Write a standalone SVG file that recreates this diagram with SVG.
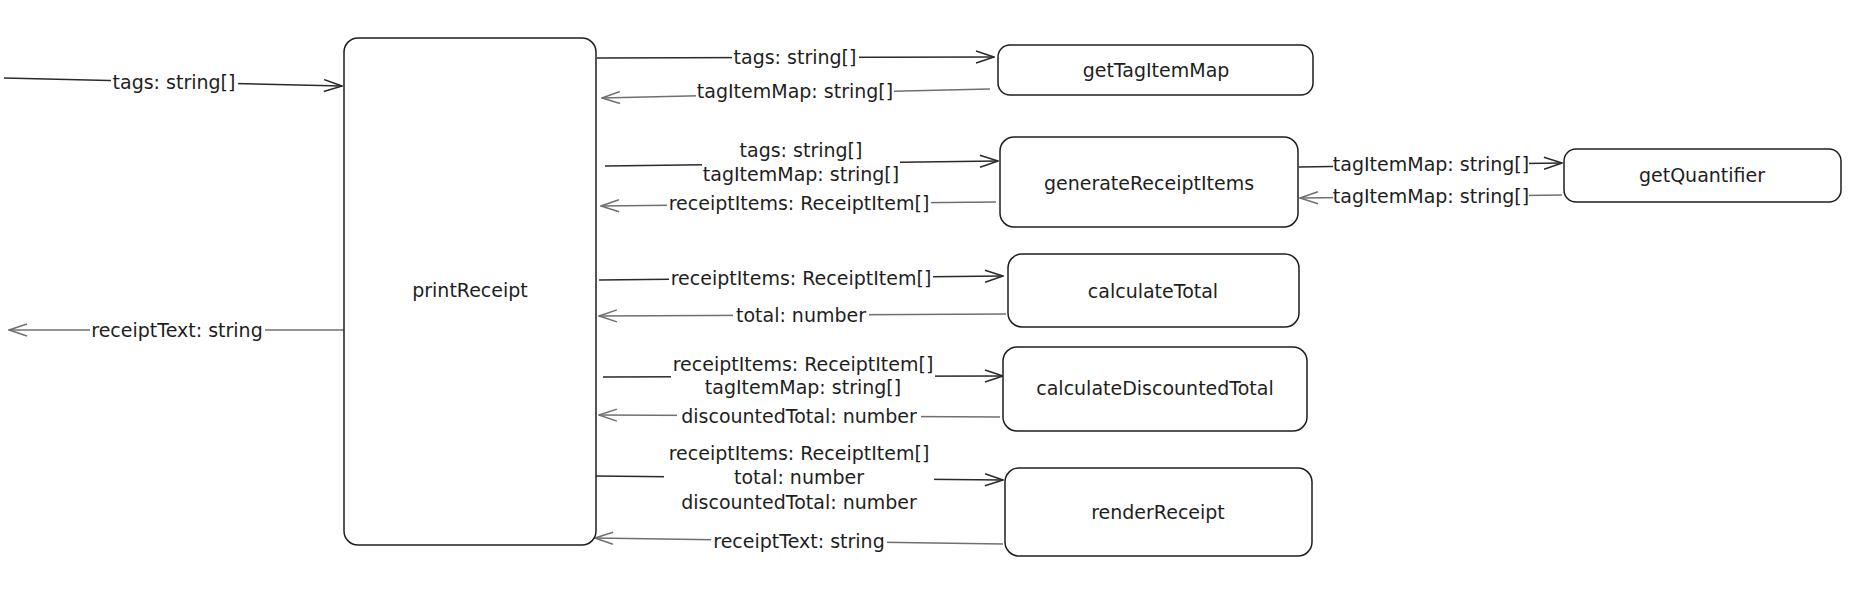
<svg xmlns="http://www.w3.org/2000/svg" width="1855" height="607" viewBox="0 0 1855 607">
<style>
.node{fill:#fff;stroke:#1e1e1e;stroke-width:1.5}
.nl{font-family:"DejaVu Sans",sans-serif;font-size:19px;fill:#1e1e1e;text-anchor:middle;dominant-baseline:central}
.el{font-family:"DejaVu Sans",sans-serif;font-size:19px;fill:#1e1e1e;text-anchor:middle;dominant-baseline:central}
.fw{stroke:#2a2a2a;stroke-width:1.5;fill:none;marker-end:url(#hd)}
.rt{stroke:#707070;stroke-width:1.5;fill:none;marker-end:url(#hg)}
.bg{fill:#fff}
</style>
<defs>
<marker id="hd" viewBox="0 0 20 14" refX="19" refY="7" markerWidth="20" markerHeight="14" markerUnits="userSpaceOnUse" orient="auto">
<path d="M1,1 L19,7 L1,13" fill="none" stroke="#2a2a2a" stroke-width="1.5"/>
</marker>
<marker id="hg" viewBox="0 0 20 14" refX="19" refY="7" markerWidth="20" markerHeight="14" markerUnits="userSpaceOnUse" orient="auto">
<path d="M1,1 L19,7 L1,13" fill="none" stroke="#707070" stroke-width="1.5"/>
</marker>
</defs>
<rect width="1855" height="607" fill="#fff"/>
<g id="connectors">
<path class="fw" d="M4,78 L342,86"/>
<rect class="bg" x="111" y="70" width="127" height="24"/>
<text class="el" x="174" y="82">tags: string[]</text>
<path class="rt" d="M345,330 L9,330"/>
<rect class="bg" x="90" y="318" width="175" height="24"/>
<text class="el" x="177" y="330">receiptText: string</text>

<path class="fw" d="M597,58 L994,57"/>
<rect class="bg" x="732" y="45" width="127" height="24"/>
<text class="el" x="795" y="57">tags: string[]</text>
<path class="rt" d="M990,89 L602,98"/>
<rect class="bg" x="696" y="79" width="198" height="24"/>
<text class="el" x="795" y="91">tagItemMap: string[]</text>

<path class="fw" d="M605,166 L998,161"/>
<rect class="bg" x="702" y="138" width="198" height="48"/>
<text class="el" x="801" y="150">tags: string[]</text>
<text class="el" x="801" y="174">tagItemMap: string[]</text>
<path class="rt" d="M996,202 L601,206"/>
<rect class="bg" x="667" y="191" width="264" height="24"/>
<text class="el" x="799" y="203">receiptItems: ReceiptItem[]</text>

<path class="fw" d="M1299,167 L1562,163"/>
<rect class="bg" x="1333" y="152" width="196" height="24"/>
<text class="el" x="1431" y="164">tagItemMap: string[]</text>
<path class="rt" d="M1562,195 L1300,198"/>
<rect class="bg" x="1333" y="184" width="196" height="24"/>
<text class="el" x="1431" y="196">tagItemMap: string[]</text>

<path class="fw" d="M599,280 L1003,276"/>
<rect class="bg" x="669" y="266" width="264" height="24"/>
<text class="el" x="801" y="278">receiptItems: ReceiptItem[]</text>
<path class="rt" d="M1006,314 L599,316"/>
<rect class="bg" x="733" y="303" width="136" height="24"/>
<text class="el" x="801" y="315">total: number</text>

<path class="fw" d="M603,377 L1003,376"/>
<rect class="bg" x="671" y="352" width="264" height="48"/>
<text class="el" x="803" y="364">receiptItems: ReceiptItem[]</text>
<text class="el" x="803" y="387">tagItemMap: string[]</text>
<path class="rt" d="M1000,417 L599,415"/>
<rect class="bg" x="677" y="404" width="244" height="24"/>
<text class="el" x="799" y="416">discountedTotal: number</text>

<path class="fw" d="M595,476 L1003,480"/>
<rect class="bg" x="664" y="441" width="270" height="73"/>
<text class="el" x="799" y="453">receiptItems: ReceiptItem[]</text>
<text class="el" x="799" y="477">total: number</text>
<text class="el" x="799" y="502">discountedTotal: number</text>
<path class="rt" d="M1003,544 L595,538"/>
<rect class="bg" x="711" y="529" width="176" height="24"/>
<text class="el" x="799" y="541">receiptText: string</text>
</g>
<g id="printReceipt">
<rect class="node" x="344" y="38" width="252" height="507" rx="14"/>
<text class="nl" x="470" y="290">printReceipt</text>
</g>
<g id="getTagItemMap">
<rect class="node" x="998" y="45" width="315" height="50" rx="12"/>
<text class="nl" x="1156" y="70">getTagItemMap</text>
</g>
<g id="generateReceiptItems">
<rect class="node" x="1000" y="137" width="298" height="90" rx="14"/>
<text class="nl" x="1149" y="183">generateReceiptItems</text>
</g>
<g id="getQuantifier">
<rect class="node" x="1564" y="149" width="277" height="53" rx="12"/>
<text class="nl" x="1702" y="175">getQuantifier</text>
</g>
<g id="calculateTotal">
<rect class="node" x="1008" y="254" width="291" height="73" rx="14"/>
<text class="nl" x="1153" y="291">calculateTotal</text>
</g>
<g id="calculateDiscountedTotal">
<rect class="node" x="1003" y="347" width="304" height="84" rx="14"/>
<text class="nl" x="1155" y="388">calculateDiscountedTotal</text>
</g>
<g id="renderReceipt">
<rect class="node" x="1005" y="468" width="307" height="88" rx="14"/>
<text class="nl" x="1158" y="512">renderReceipt</text>
</g>
</svg>
